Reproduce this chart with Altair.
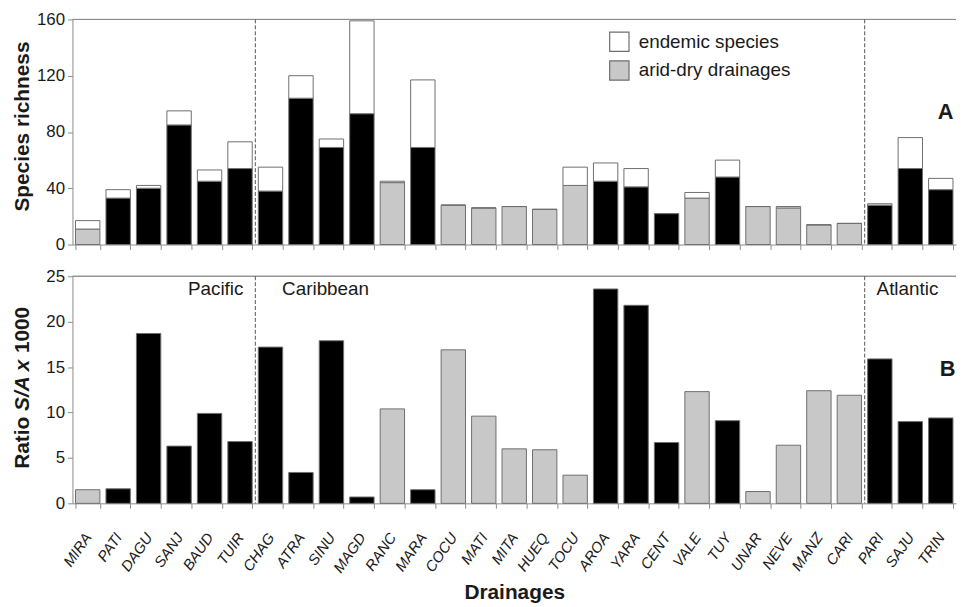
import altair as alt
import pandas as pd

# ---------------- data ----------------
drainages = ["MIRA", "PATI", "DAGU", "SANJ", "BAUD", "TUIR", "CHAG", "ATRA", "SINU", "MAGD",
             "RANC", "MARA", "COCU", "MATI", "MITA", "HUEQ", "TOCU", "AROA", "YARA", "CENT",
             "VALE", "TUY", "UNAR", "NEVE", "MANZ", "CARI", "PARI", "SAJU", "TRIN"]
arid = [1, 0, 0, 0, 0, 0, 0, 0, 0, 0,
        1, 0, 1, 1, 1, 1, 1, 0, 0, 0,
        1, 0, 1, 1, 1, 1, 0, 0, 0]
total_species = [17, 39, 42, 95, 53, 73, 55, 120, 75, 159,
                 45, 117, 28, 26, 27, 25, 55, 58, 54, 22,
                 37, 60, 27, 27, 14, 15, 29, 76, 47]
non_endemic = [11, 33, 40, 85, 45, 54, 38, 104, 69, 93,
               44, 69, 28, 26, 27, 25, 42, 45, 41, 22,
               33, 48, 27, 26, 14, 15, 28, 54, 39]
ratio_sa = [1.5, 1.6, 18.7, 6.3, 9.9, 6.8, 17.2, 3.4, 17.9, 0.7,
            10.4, 1.5, 16.9, 9.6, 6.0, 5.9, 3.1, 23.6, 21.8, 6.7,
            12.3, 9.1, 1.3, 6.4, 12.4, 11.9, 15.9, 9.0, 9.4]

kinds = ["endemic species", "arid-dry drainages", "humid drainages"]
kind_colors = ["#ffffff", "#c8c8c8", "#000000"]

region_dividers = ["CHAG", "PARI"]
region_labels = ["Pacific", "Caribbean", "Atlantic"]
region_anchor = ["CHAG", "CHAG", "PARI"]

top_ticks = [0, 40, 80, 120, 160]
bottom_ticks = [0, 5, 10, 15, 20, 25]

# ---------------- tables ----------------
df = pd.DataFrame({
    "drainage": drainages,
    "total": total_species,
    "base": non_endemic,
    "ratio": ratio_sa,
    "kind": [kinds[1] if a else kinds[2] for a in arid],
})
df_end = pd.DataFrame({"drainage": drainages, "base": non_endemic,
                       "total": total_species, "kind": kinds[0]})
df_div = pd.DataFrame({"drainage": region_dividers})

FONT = "Liberation Sans"
AX = "#8c8c8c"
TXT = "#1a1a1a"
STROKE = "#6e6e6e"

W = 891
H1 = 227
H2 = 229

fill_scale = alt.Scale(domain=kinds, range=kind_colors)
x_scale = alt.Scale(domain=drainages, paddingInner=0.2, paddingOuter=0.1)


def y_axis(vals):
    return alt.Axis(values=vals, title=None, grid=False, domainColor=AX, tickColor=AX,
                    tickSize=5, labelFontSize=17, labelColor=TXT, labelFont=FONT, labelPadding=3)


top_axis = alt.Axis(labels=False, title=None, ticks=True, tickBand="extent", domainColor=AX,
                    tickColor=AX, tickSize=5, grid=False)
bottom_axis = alt.Axis(title="Drainages", titleFont=FONT, titleFontSize=21, titleFontWeight="bold",
                       titleColor=TXT, titlePadding=7, labelAngle=-55, labelAlign="right",
                       labelBaseline="middle", labelFontSize=15, labelFontStyle="italic",
                       labelFont=FONT, labelColor=TXT, labelPadding=26, tickBand="extent",
                       domainColor=AX, tickColor=AX, tickSize=5, grid=False)

xt = alt.X("drainage:N", scale=x_scale, axis=top_axis)
xb = alt.X("drainage:N", scale=x_scale, axis=bottom_axis)
yt_scale = alt.Scale(domain=[0, 160], nice=False)
yb_scale = alt.Scale(domain=[0, 25], nice=False)

# ---------------- panel A ----------------
base_bars = alt.Chart(df).mark_bar(stroke=STROKE, strokeWidth=1).encode(
    x=xt,
    y=alt.Y("base:Q", scale=yt_scale, axis=y_axis(top_ticks), stack=None),
    fill=alt.Fill("kind:N", scale=fill_scale, legend=alt.Legend(
        title=None, orient="none", legendX=541, legendY=12, values=kinds[:2],
        symbolType="square", symbolSize=380, symbolStrokeColor=STROKE, symbolStrokeWidth=1.2,
        labelFontSize=19, labelFont=FONT, labelColor=TXT, labelOffset=9, rowPadding=4, padding=0)),
)
end_bars = alt.Chart(df_end).mark_bar(stroke=STROKE, strokeWidth=1).encode(
    x=xt,
    y=alt.Y("base:Q", scale=yt_scale),
    y2="total:Q",
    fill=alt.Fill("kind:N", scale=fill_scale),
)
top_line = alt.Chart(df_div).mark_rule(color=AX, strokeWidth=1).encode(y=alt.datum(160))
div_top = alt.Chart(df_div).mark_rule(color="#555555", strokeDash=[4, 2], strokeWidth=1, xOffset=-3).encode(
    x=alt.X("drainage:N", scale=x_scale, axis=top_axis, bandPosition=0))
lab_a = alt.Chart(pd.DataFrame({"drainage": ["TRIN"], "y": [94], "t": ["A"]})).mark_text(
    font=FONT, fontSize=22, fontWeight="bold", color=TXT, dx=5).encode(x=xt, y=alt.Y("y:Q", scale=yt_scale), text="t:N")
title_a = alt.Chart(pd.DataFrame({"t": ["Species richness"]})).mark_text(
    font=FONT, fontSize=21, fontWeight="bold", color=TXT, angle=270, align="center", baseline="middle").encode(
    x=alt.value(-50), y=alt.value(108), text="t:N")

top = alt.layer(base_bars, end_bars, top_line, div_top, lab_a, title_a).properties(width=W, height=H1)

# ---------------- panel B ----------------
ratio_bars = alt.Chart(df).mark_bar(stroke=STROKE, strokeWidth=1).encode(
    x=xb,
    y=alt.Y("ratio:Q", scale=yb_scale, axis=y_axis(bottom_ticks)),
    fill=alt.Fill("kind:N", scale=fill_scale, legend=None),
)
top_line_b = alt.Chart(df_div).mark_rule(color=AX, strokeWidth=1).encode(y=alt.datum(25))
div_bot = alt.Chart(df_div).mark_rule(color="#555555", strokeDash=[4, 2], strokeWidth=1, xOffset=-3).encode(
    x=alt.X("drainage:N", scale=x_scale, axis=bottom_axis, bandPosition=0))
df_reg = pd.DataFrame({"drainage": region_anchor, "t": region_labels, "y": [23.6, 23.6, 23.6]})
reg_left = alt.Chart(df_reg.iloc[[0]]).mark_text(
    font=FONT, fontSize=19, color=TXT, align="right", baseline="middle", dx=-15).encode(
    x=alt.X("drainage:N", scale=x_scale, axis=bottom_axis, bandPosition=0), y=alt.Y("y:Q", scale=yb_scale), text="t:N")
reg_c = alt.Chart(df_reg.iloc[[1]]).mark_text(
    font=FONT, fontSize=19, color=TXT, align="left", baseline="middle", dx=24).encode(
    x=alt.X("drainage:N", scale=x_scale, axis=bottom_axis, bandPosition=0), y=alt.Y("y:Q", scale=yb_scale), text="t:N")
reg_at = alt.Chart(df_reg.iloc[[2]]).mark_text(
    font=FONT, fontSize=19, color=TXT, align="left", baseline="middle", dx=9).encode(
    x=alt.X("drainage:N", scale=x_scale, axis=bottom_axis, bandPosition=0), y=alt.Y("y:Q", scale=yb_scale), text="t:N")
lab_b = alt.Chart(pd.DataFrame({"drainage": ["TRIN"], "y": [14.8], "t": ["B"]})).mark_text(
    font=FONT, fontSize=22, fontWeight="bold", color=TXT, dx=7).encode(x=xb, y=alt.Y("y:Q", scale=yb_scale), text="t:N")

# y title with italic part: "Ratio S/A x 1000"
fs = 21.0
w_ratio = 2.500 * fs
w_sa = 2.501 * fs
w_sp = 0.278 * fs
start = H2 / 2 + (w_ratio + w_sp + w_sa + w_sp + 2.224 * fs) / 2 - 2
y_ratio = start
y_sa = y_ratio - w_ratio - w_sp
y_1000 = y_sa - w_sa - w_sp
t_norm = alt.Chart(pd.DataFrame({"t": ["Ratio", "1000"], "p": [y_ratio, y_1000]})).mark_text(
    font=FONT, fontSize=fs, fontWeight="bold", color=TXT, angle=270, align="left", baseline="middle").encode(
    x=alt.value(-50), y=alt.Y("p:Q", scale=None), text="t:N")
t_ital = alt.Chart(pd.DataFrame({"t": ["S/A x"], "p": [y_sa]})).mark_text(
    font=FONT, fontSize=fs, fontWeight="bold", fontStyle="italic", color=TXT, angle=270, align="left",
    baseline="middle").encode(x=alt.value(-50), y=alt.Y("p:Q", scale=None), text="t:N")

bottom = alt.layer(ratio_bars, top_line_b, div_bot, reg_left, reg_c, reg_at, lab_b, t_norm, t_ital).properties(
    width=W, height=H2)

chart = alt.vconcat(top, bottom, spacing=32, bounds="flush").resolve_scale(
    fill="independent", y="independent").properties(
    padding={"left": 4, "top": 0, "right": 0, "bottom": 0}, background="white"
).configure_view(stroke=None)

chart.save("out.html", embed_options={"renderer": "svg", "actions": False})
